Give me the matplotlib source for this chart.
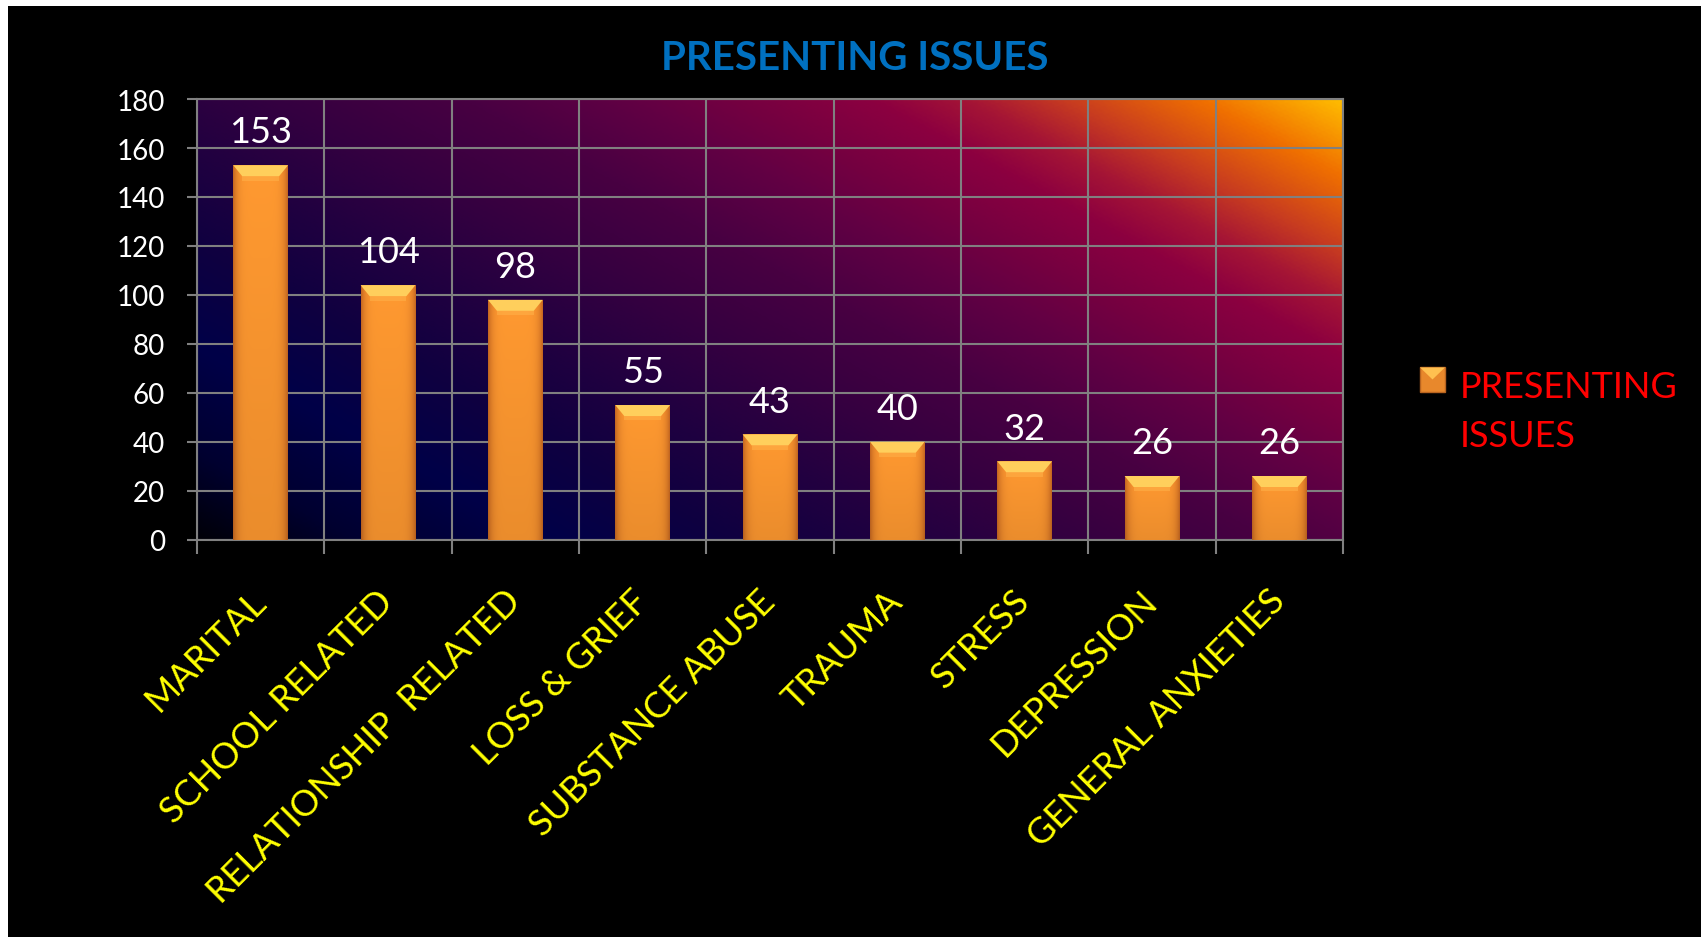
import numpy as np
import matplotlib
matplotlib.use("Agg")
import matplotlib.pyplot as plt
from matplotlib.colors import LinearSegmentedColormap
from matplotlib.patches import Rectangle, Polygon

plt.rcParams["font.family"] = ["Lato", "DejaVu Sans"]

categories = ["MARITAL", "SCHOOL RELATED", "RELATIONSHIP  RELATED", "LOSS & GRIEF",
              "SUBSTANCE ABUSE", "TRAUMA", "STRESS", "DEPRESSION", "GENERAL ANXIETIES"]
counts = [153, 104, 98, 55, 43, 40, 32, 26, 26]
series_name = "PRESENTING ISSUES"
yticks = list(range(0, 181, 20))

GRID = "#808080"

fig = plt.figure(figsize=(17.01, 9.379), dpi=100, facecolor="black")
ax = fig.add_axes([197 / 1701, 1 - 540 / 937, (1343 - 197) / 1701, 440 / 937])
ax.set_facecolor("black")

# white slivers at top and left edge of the slide capture
fig.patches.append(Rectangle((0, 1 - 7 / 937), 1, 7 / 937, transform=fig.transFigure,
                             facecolor="white", edgecolor="none", zorder=10))
fig.patches.append(Rectangle((0, 0), 8 / 1701, 1, transform=fig.transFigure,
                             facecolor="white", edgecolor="none", zorder=10))

# diagonal gradient plot area: dark navy bottom-left -> magenta -> orange/yellow top-right
bg = LinearSegmentedColormap.from_list("bg", [
    (0.00, "#000008"), (0.08, "#000030"), (0.18, "#000048"), (0.28, "#100040"),
    (0.36, "#200040"), (0.45, "#340040"), (0.55, "#480042"), (0.63, "#600044"),
    (0.70, "#780040"), (0.76, "#8c0040"), (0.81, "#a51535"), (0.86, "#c83c20"),
    (0.93, "#f07000"), (1.00, "#ffbc00")])
gx, gy = np.meshgrid(np.linspace(0, 1, 500), np.linspace(0, 1, 250))
ax.imshow((1.42 * gx + gy) / 2.42, cmap=bg, vmin=0, vmax=1, extent=(0, 1, 0, 1),
          transform=ax.transAxes, origin="lower", aspect="auto",
          interpolation="bilinear", zorder=0)

x = np.arange(len(categories))
ax.set_xlim(-0.5, len(categories) - 0.5)
ax.set_ylim(0, 180)
bars = ax.bar(x, counts, width=0.43, color="#f7922e", edgecolor="none", zorder=2)

# bevel sizes in data units from pixel sizes
inv = ax.transData.inverted()
p0 = inv.transform((0, 0))
p1 = inv.transform((9, 11))
bdx, bdy = p1 - p0

prof_u = np.linspace(0, 1, 60)
edge = np.clip(np.abs(2 * prof_u - 1), 0, 1) ** 6
vert = np.linspace(0.92, 1.0, 80)[:, None]
centre = np.array([1.0, 0.60, 0.19])
side = np.array([0.78, 0.41, 0.13])
rgb = (centre[None, :] * (1 - edge[:, None]) + side[None, :] * edge[:, None])
img = np.clip(rgb[None, :, :] * vert[:, :, None], 0, 1)

for b in bars:
    x0, w, h = b.get_x(), b.get_width(), b.get_height()
    im = ax.imshow(img, extent=(x0, x0 + w, 0, h), origin="lower", aspect="auto",
                   interpolation="bilinear", zorder=2.1)
    im.set_clip_path(b)
    ax.add_patch(Polygon([(x0, h), (x0 + w, h), (x0 + w - bdx, h - bdy), (x0 + bdx, h - bdy)],
                         closed=True, facecolor="#ffcf5c", edgecolor="none", zorder=2.2))
    ax.add_patch(Polygon([(x0 + bdx, h - bdy), (x0 + w - bdx, h - bdy),
                          (x0 + w - bdx, h - 1.4 * bdy), (x0 + bdx, h - 1.4 * bdy)],
                         closed=True, facecolor="#ffb048", edgecolor="none", zorder=2.2, alpha=0.6))
    ax.annotate(str(int(h)), (x0 + w / 2, h), xytext=(0, 12), textcoords="offset points",
                ha="center", va="bottom", color="white", fontsize=26, zorder=3)

ax.set_yticks(yticks)
ax.set_xticks(x)
ax.set_xticklabels(categories, rotation=45, ha="right", va="center", rotation_mode="anchor",
                   color="#ffff00", fontsize=26)
ax.set_xticks(np.r_[x - 0.5, x[-1] + 0.5], minor=True)
ax.tick_params(axis="x", which="major", length=0, pad=40)
ax.tick_params(axis="x", which="minor", length=10, width=1.5, color=GRID, direction="out")
ax.tick_params(axis="y", length=7, width=1.5, color=GRID, labelcolor="white", labelsize=20, pad=16)
ax.grid(axis="y", which="major", color=GRID, lw=1.5, zorder=1)
ax.grid(axis="x", which="minor", color=GRID, lw=1.5, zorder=1)
ax.set_axisbelow(True)
for s in ax.spines.values():
    s.set_color(GRID)
    s.set_linewidth(1.5)
    s.set_zorder(1.5)

fig.text(855 / 1701, 1 - 58 / 937, series_name, ha="center", va="center",
         color="#0070c0", fontsize=29, fontweight="bold")

# legend on the right
fig.patches.append(Rectangle((1420 / 1701, 1 - 393 / 937), 25 / 1701, 25 / 937,
                             transform=fig.transFigure, facecolor="#e8882c",
                             edgecolor="#b86420", lw=1))
fig.patches.append(Polygon([(1420 / 1701, 1 - 368 / 937), (1445 / 1701, 1 - 368 / 937),
                            (1432.5 / 1701, 1 - 380 / 937)], closed=True,
                           transform=fig.transFigure, facecolor="#ffc050", edgecolor="none"))
fig.text(1460 / 1701, 1 - 412 / 937, "PRESENTING\nISSUES", ha="left", va="center",
         color="#ff0000", fontsize=26, linespacing=1.6)

fig.savefig("out.png", dpi=100, facecolor="black")
